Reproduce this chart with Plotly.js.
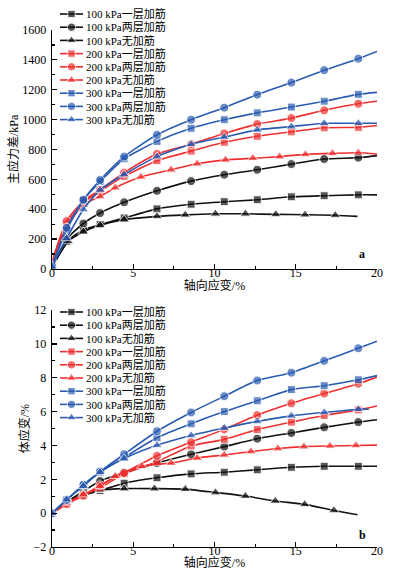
<!DOCTYPE html>
<html><head><meta charset="utf-8">
<script src="https://cdn.plot.ly/plotly-3.0.1.min.js"></script>
<style>html,body{margin:0;padding:0;background:#fff}#chart{width:394px;height:583px}</style>
</head><body><div id="chart"></div>
<script>
// ---------- series names ----------
const seriesNames = ['100 kPa一层加筋','100 kPa两层加筋','100 kPa无加筋',
                     '200 kPa一层加筋','200 kPa两层加筋','200 kPa无加筋',
                     '300 kPa一层加筋','300 kPa两层加筋','300 kPa无加筋'];

// ---------- panel a: 主应力差 / kPa vs 轴向应变 / % ----------
const aX = [0, 0.9, 1.93, 2.96, 4.44, 6.46, 8.56, 10.6, 12.63, 14.73, 16.75, 18.85, 20];
const a100OneY = [10, 184, 260, 297, 341, 402, 433, 450, 463, 483, 490, 496, 496];
const a100TwoY = [10, 200, 304, 374, 446, 523, 588, 631, 664, 702, 736, 745, 759];
const a100NoneX = [0, 1.0, 1.93, 2.96, 4.44, 6.46, 8.2, 10.06, 11.9, 13.77, 15.57, 17.43, 18.8];
const a100NoneY = [10, 184, 249, 293, 330, 352, 362, 369, 369, 365, 363, 359, 352];
const a200OneY = [40, 300, 440, 520, 620, 725, 789, 848, 888, 918, 945, 948, 960];
const a200TwoY = [50, 320, 455, 530, 645, 770, 835, 907, 970, 1010, 1062, 1106, 1123];
const a200NoneX = [0, 0.9, 1.93, 2.96, 3.89, 5.47, 7.33, 8.93, 10.68, 12.36, 14.0, 15.6, 17.26, 18.85, 20];
const a200NoneY = [40, 280, 430, 485, 544, 616, 664, 704, 730, 741, 752, 767, 774, 778, 770];
const a300OneY = [25, 260, 460, 584, 737, 854, 942, 999, 1045, 1084, 1123, 1169, 1182];
const a300TwoY = [20, 275, 463, 595, 752, 898, 999, 1080, 1167, 1248, 1331, 1408, 1456];
const a300NoneY = [15, 205, 398, 529, 632, 752, 835, 883, 931, 953, 975, 975, 975];

// ---------- panel b: 体应变 / % vs 轴向应变 / % ----------
const bX = [0, 0.9, 1.93, 2.96, 4.44, 6.46, 8.56, 10.6, 12.63, 14.73, 16.75, 18.85, 20];
const b100OneY = [0, 0.7, 1.05, 1.33, 1.77, 2.09, 2.32, 2.42, 2.56, 2.71, 2.77, 2.77, 2.77];
const b100TwoY = [0, 0.65, 1.3, 1.9, 2.38, 2.96, 3.48, 3.93, 4.40, 4.74, 5.07, 5.38, 5.52];
const b100NoneX = [0, 1.0, 1.93, 2.96, 4.44, 6.3, 8.2, 10.06, 11.9, 13.74, 15.55, 17.35, 18.8];
const b100NoneY = [0, 0.75, 1.1, 1.36, 1.45, 1.45, 1.42, 1.22, 1.01, 0.72, 0.52, 0.16, -0.09];
const b200OneY = [0, 0.52, 1.07, 1.49, 2.32, 3.04, 3.97, 4.36, 4.94, 5.38, 5.77, 6.10, 6.33];
const b200TwoY = [0, 0.55, 1.03, 1.65, 2.38, 3.39, 4.2, 4.95, 5.79, 6.49, 7.07, 7.65, 8.04];
const b200NoneX = [0, 0.9, 1.93, 2.96, 3.89, 5.53, 7.33, 8.93, 10.6, 12.24, 13.9, 15.5, 17.1, 18.7, 20];
const b200NoneY = [0, 0.6, 1.1, 1.6, 2.19, 2.77, 2.96, 3.26, 3.44, 3.64, 3.82, 3.93, 3.97, 4.0, 4.02];
const b300OneY = [0, 0.78, 1.65, 2.42, 3.29, 4.45, 5.28, 6.0, 6.64, 7.30, 7.53, 7.88, 8.13];
const b300TwoY = [0, 0.78, 1.68, 2.46, 3.48, 4.84, 5.95, 6.91, 7.84, 8.30, 9.00, 9.74, 10.16];
const b300NoneX = [0, 0.9, 1.93, 2.96, 4.44, 6.46, 8.56, 10.6, 12.63, 14.73, 16.75, 18.85, 19.5];
const b300NoneY = [0, 0.8, 1.6, 2.42, 3.23, 4.01, 4.59, 5.03, 5.42, 5.75, 5.95, 6.14, 6.14];

// ---------- styling ----------
const BLACK = '#111111', RED = '#ee2f2f', BLUE = '#2a5bb0';
const colors = [BLACK, BLACK, BLACK, RED, RED, RED, BLUE, BLUE, BLUE];
const symbols = ['square', 'circle', 'triangle-up', 'square', 'circle', 'triangle-up', 'square', 'circle', 'triangle-up'];
const symSize = {'square': 8, 'circle': 9, 'triangle-up': 9.5};
const FONT = 'Liberation Serif, "Noto Sans CJK SC", serif';

const aData = [[aX, a100OneY], [aX, a100TwoY], [a100NoneX, a100NoneY],
               [aX, a200OneY], [aX, a200TwoY], [a200NoneX, a200NoneY],
               [aX, a300OneY], [aX, a300TwoY], [aX, a300NoneY]];
const bData = [[bX, b100OneY], [bX, b100TwoY], [b100NoneX, b100NoneY],
               [bX, b200OneY], [bX, b200TwoY], [b200NoneX, b200NoneY],
               [bX, b300OneY], [bX, b300TwoY], [b300NoneX, b300NoneY]];

function makeTraces(data, xa, ya, legendId) {
  return data.map((d, i) => {
    const s = symSize[symbols[i]];
    // last point of each curve is the end of the measured line, drawn without a marker
    const sizes = d[0].map((_, k) => (k === d[0].length - 1 ? 0 : s));
    return {
      type: 'scatter', mode: 'lines+markers', name: seriesNames[i],
      x: d[0], y: d[1], xaxis: xa, yaxis: ya, legend: legendId,
      line: {color: colors[i], width: 1.6, shape: 'spline', smoothing: 0.6},
      marker: {symbol: symbols[i], size: sizes, color: colors[i]},
      hoverinfo: 'skip'
    };
  });
}

const traces = makeTraces(aData, 'x', 'y', 'legend').concat(makeTraces(bData, 'x2', 'y2', 'legend2'));

const tickFont = {family: FONT, size: 12, color: '#000'};
const titleFont = {family: FONT, size: 12, color: '#000'};
function xAxis(anchor) {
  return {
    anchor: anchor, domain: [0, 1], range: [0, 20], tick0: 0, dtick: 5,
    ticks: 'inside', ticklen: 5, tickwidth: 1.2, tickcolor: '#000',
    showline: true, linecolor: '#000', linewidth: 1.3, showgrid: false, zeroline: false,
    tickfont: tickFont,
    minor: {dtick: 2.5, ticks: 'inside', ticklen: 3, tickwidth: 1.2, tickcolor: '#000', showgrid: false},
    title: {text: '轴向应变/%', font: titleFont, standoff: 3}
  };
}
function yAxis(anchor, domain, range, dtick, mdtick, title) {
  return {
    anchor: anchor, domain: domain, range: range, dtick: dtick,
    ticks: 'inside', ticklen: 5, tickwidth: 1.2, tickcolor: '#000',
    showline: true, linecolor: '#000', linewidth: 1.3, showgrid: false, zeroline: false,
    tickfont: tickFont, ticklabelstandoff: 2,
    minor: {dtick: mdtick, ticks: 'inside', ticklen: 3, tickwidth: 1.2, tickcolor: '#000', showgrid: false},
    title: {text: title, font: titleFont, standoff: 1}
  };
}
const legendBase = {xref: 'paper', yref: 'paper', xanchor: 'left', yanchor: 'top',
  bgcolor: 'rgba(0,0,0,0)', borderwidth: 0, tracegroupgap: 0,
  font: {family: FONT, size: 11, color: '#000'}};

const layout = {
  width: 394, height: 583,
  paper_bgcolor: '#ffffff', plot_bgcolor: '#ffffff',
  margin: {l: 52, r: 17, t: 19, b: 36},
  showlegend: true,
  xaxis: xAxis('y'),
  yaxis: yAxis('x', [0.5379, 1], [0, 1600], 200, 100, '主应力差/kPa'),
  xaxis2: xAxis('y2'),
  yaxis2: yAxis('x2', [0, 0.4583], [-2, 12], 2, 1, '体应变/%'),
  legend: Object.assign({}, legendBase, {x: -0.02, y: 1.035}),
  legend2: Object.assign({}, legendBase, {x: -0.02, y: 0.48}),
  annotations: [
    {xref: 'x', yref: 'y', x: 19.1, y: 98, text: 'a', showarrow: false,
     font: {family: FONT, size: 12, color: '#000', weight: 'bold'}},
    {xref: 'x2', yref: 'y2', x: 19.1, y: -1.3, text: 'b', showarrow: false,
     font: {family: FONT, size: 12, color: '#000', weight: 'bold'}}
  ]
};

// compact legend rows like the original figure
const legendRows = {
  legend: {x0: 46, y0: 14, step: 13.2},
  legend2: {x0: 46, y0: 312, step: 13.2}
};
// pull x tick labels / titles closer to the axis line, as in the original
const xShift = {
  xtick: -8, x2tick: -8, 'g-xtitle': -8, 'g-x2title': -9
};
function finishLayout(gd) {
  Object.keys(legendRows).forEach(id => {
    const g = gd.querySelector('.infolayer g.' + id);
    if (!g) return;
    g.querySelectorAll('[clip-path]').forEach(el => el.removeAttribute('clip-path'));
    const cfg = legendRows[id];
    const items = g.querySelectorAll('g.traces');
    items.forEach((it, i) => {
      const m = it.parentNode.getCTM();
      it.setAttribute('transform', 'translate(' + (cfg.x0 - m.e) + ',' + (cfg.y0 + i * cfg.step - m.f) + ')');
      it.querySelectorAll('.legendlines path').forEach(p => p.setAttribute('d', 'M14,0h23'));
      it.querySelectorAll('.legendpoints path.scatterpts').forEach(p => {
        p.setAttribute('transform', 'translate(25.5,0)');
      });
    });
  });
  Object.keys(xShift).forEach(cls => {
    gd.querySelectorAll('g.' + cls).forEach(el => {
      el.setAttribute('transform', 'translate(0,' + xShift[cls] + ')');
    });
  });
}

const gd = document.getElementById('chart');
Plotly.newPlot(gd, traces, layout, {staticPlot: true, displayModeBar: false}).then(finishLayout);
</script>
</body></html>
